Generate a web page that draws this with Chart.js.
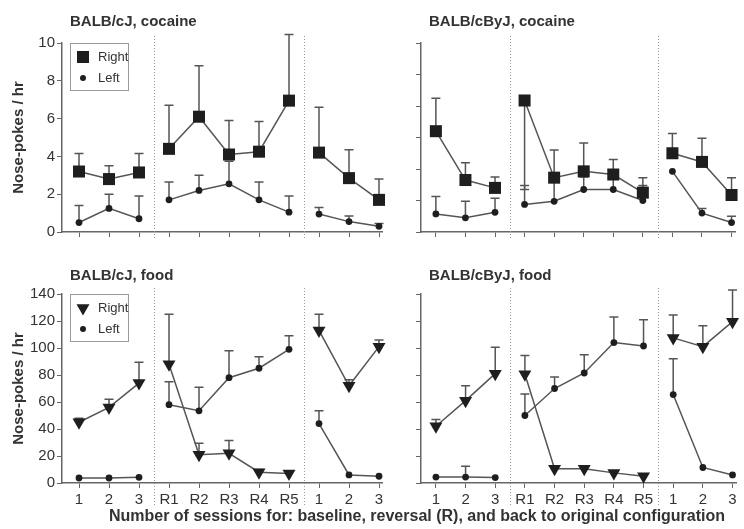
<!DOCTYPE html>
<html>
<head>
<meta charset="utf-8">
<script src="https://cdn.jsdelivr.net/npm/chart.js@4.4.0/dist/chart.umd.min.js"></script>
<style>
  body { margin: 0; background: #fff; }
  #wrap { position: relative; width: 744px; height: 529px; overflow: hidden; }
  canvas { position: absolute; }
  #xtitle {
    position: absolute; left: 70px; width: 694px; top: 507px;
    text-align: center; font: bold 16px "Liberation Sans", Arial, sans-serif; color: #333;
    white-space: nowrap;
  }
</style>
</head>
<body>
<div id="wrap">
  <canvas id="cjCocaine" width="392" height="250" style="left:0;top:0"></canvas>
  <canvas id="cbyjCocaine" width="352" height="250" style="left:392px;top:0"></canvas>
  <canvas id="cjFood" width="392" height="262" style="left:0;top:250px"></canvas>
  <canvas id="cbyjFood" width="352" height="262" style="left:392px;top:250px"></canvas>
  <div id="xtitle">Number of sessions for: baseline, reversal (R), and back to original configuration</div>
</div>
<script>
const sessionPos = [1, 2, 3, 4, 5, 6, 7, 8, 9, 10, 11];
const sessionLabels = ["1", "2", "3", "R1", "R2", "R3", "R4", "R5", "1", "2", "3"];
const phaseBreaks = [3.5, 8.5];

// BALB/cJ, cocaine
const cjCocRight = [3.2, 2.8, 3.15, 4.4, 6.1, 4.1, 4.25, 6.95, 4.2, 2.85, 1.7];
const cjCocRightErr = [4.15, 3.5, 4.15, 6.7, 8.8, 5.9, 5.85, 10.45, 6.6, 4.35, 2.8];
const cjCocLeft = [0.5, 1.25, 0.7, 1.7, 2.2, 2.55, 1.7, 1.05, 0.95, 0.55, 0.3];
const cjCocLeftErr = [1.4, 2.0, 1.9, 2.65, 3.0, 3.75, 2.65, 1.9, 1.3, 0.85, 0.45];

// BALB/cByJ, cocaine
const cbyjCocRight = [6.4, 3.3, 2.8, 8.35, 3.45, 3.85, 3.65, 2.5, 5.0, 4.45, 2.35];
const cbyjCocRightErr = [8.5, 4.4, 3.5, 2.7, 5.2, 5.65, 4.6, 3.45, 6.25, 5.95, 3.45];
const cbyjCocLeft = [1.15, 0.9, 1.25, 1.75, 1.95, 2.7, 2.7, 2.0, 3.85, 1.2, 0.6];
const cbyjCocLeftErr = [2.25, 1.95, 2.15, 2.95, 3.2, 3.5, 3.4, 2.95, null, 1.5, 1.0];

// BALB/cJ, food
const cjFoodRight = [45, 56, 74, 88, 21, 22, 8, 7, 113, 72, 101];
const cjFoodRightErr = [48, 62, 89.5, 125, 29.5, 31.5, 10, null, 125, 76.5, 106];
const cjFoodLeft = [3.7, 3.7, 4.2, 58, 53.5, 78, 85, 99, 44, 6, 5];
const cjFoodLeftErr = [null, null, null, 75, 71, 98, 93.5, 109, 53.5, null, null];

// BALB/cByJ, food
const cbyjFoodRight = [42, 61, 81, 80.5, 10.5, 10.5, 7.5, 5, 107.5, 101, 119.5];
const cbyjFoodRightErr = [47, 72, 100.5, 94.5, null, null, null, null, 124.5, 116.5, 143];
const cbyjFoodLeft = [4.4, 4.4, 4, 50, 70, 81.5, 104, 101.5, 65.5, 11.5, 6];
const cbyjFoodLeftErr = [null, 12.5, null, 66, 78.5, 95, 123, 121, 92, null, null];

const FONT = "'Liberation Sans', Arial, sans-serif";
const INK = "#333";
const LINE = "#555";
const MARK = "#1e1e1e";

// a null point at each phase break keeps the phases unconnected
function panelData(values) {
  const pts = [];
  sessionPos.forEach((x, i) => {
    pts.push({ x: x, y: values[i] });
    if (phaseBreaks.includes(x + 0.5)) pts.push({ x: x + 0.5, y: null });
  });
  return pts;
}

// one-sided error bars, from the mean to the value in errEnds
const errorBars = {
  id: "errorBars",
  beforeDatasetsDraw(chart) {
    const ctx = chart.ctx, xs = chart.scales.x, ys = chart.scales.y;
    ctx.save();
    ctx.strokeStyle = LINE;
    ctx.lineWidth = 1.5;
    chart.data.datasets.forEach(ds => {
      ds.errEnds.forEach((end, i) => {
        if (end == null) return;
        const x = xs.getPixelForValue(sessionPos[i]);
        const y0 = ys.getPixelForValue(ds.values[i]);
        const y1 = ys.getPixelForValue(end);
        ctx.beginPath();
        ctx.moveTo(x, y0);
        ctx.lineTo(x, y1);
        ctx.moveTo(x - 4.5, y1);
        ctx.lineTo(x + 4.5, y1);
        ctx.stroke();
      });
    });
    ctx.restore();
  }
};

// dotted separators between baseline, reversal and return
const phaseLines = {
  id: "phaseLines",
  afterDraw(chart, args, opts) {
    const ctx = chart.ctx, xs = chart.scales.x;
    ctx.save();
    ctx.strokeStyle = "#9a9a9a";
    ctx.lineWidth = 1;
    ctx.setLineDash([1, 2]);
    phaseBreaks.forEach(b => {
      const x = Math.round(xs.getPixelForValue(b)) + 0.5;
      ctx.beginPath();
      ctx.moveTo(x, opts.top);
      ctx.lineTo(x, opts.bottom);
      ctx.stroke();
    });
    ctx.restore();
  }
};

const panelTitle = {
  id: "panelTitle",
  afterDraw(chart, args, opts) {
    const ctx = chart.ctx;
    ctx.save();
    ctx.fillStyle = INK;
    ctx.font = "bold 15px " + FONT;
    ctx.textBaseline = "middle";
    ctx.fillText(opts.text, chart.chartArea.left + 8, opts.y);
    ctx.restore();
  }
};

function drawMarker(ctx, style, x, y, r) {
  ctx.beginPath();
  if (style === "rect") {
    const s = r * Math.SQRT1_2;
    ctx.rect(x - s, y - s, 2 * s, 2 * s);
  } else if (style === "triangle") {
    ctx.moveTo(x - r * 0.866, y - r / 2);
    ctx.lineTo(x + r * 0.866, y - r / 2);
    ctx.lineTo(x, y + r);
    ctx.closePath();
  } else {
    ctx.arc(x, y, r, 0, Math.PI * 2);
  }
  ctx.fill();
}

// boxed key in the upper left of the panel
const keyBox = {
  id: "keyBox",
  afterDraw(chart, args, opts) {
    if (!opts.show) return;
    const ctx = chart.ctx, a = chart.chartArea;
    const x = a.left + 8, y = a.top;
    ctx.save();
    ctx.strokeStyle = "#9a9a9a";
    ctx.lineWidth = 1;
    ctx.strokeRect(x + 0.5, y + 0.5, 58, 47);
    ctx.font = "13px " + FONT;
    ctx.textBaseline = "middle";
    chart.data.datasets.forEach((ds, i) => {
      const cy = y + 14 + i * 21;
      ctx.fillStyle = MARK;
      drawMarker(ctx, ds.pointStyle, x + 13, cy, ds.pointStyle === "circle" ? 3 : ds.pointRadius);
      ctx.fillStyle = INK;
      ctx.fillText(ds.label, x + 28, cy);
    });
    ctx.restore();
  }
};

function makePanel(id, cfg) {
  const rightStyle = cfg.food ? "triangle" : "rect";
  return new Chart(document.getElementById(id), {
    type: "line",
    data: {
      datasets: [
        {
          label: "Right", data: panelData(cfg.right), values: cfg.right, errEnds: cfg.rightErr,
          borderColor: LINE, borderWidth: 1.5, pointStyle: rightStyle,
          pointRotation: cfg.food ? 180 : 0, pointRadius: cfg.food ? 7.5 : 8.5,
          pointBackgroundColor: MARK, pointBorderColor: MARK, pointBorderWidth: 0
        },
        {
          label: "Left", data: panelData(cfg.left), values: cfg.left, errEnds: cfg.leftErr,
          borderColor: LINE, borderWidth: 1.5, pointStyle: "circle", pointRadius: 3.4,
          pointBackgroundColor: MARK, pointBorderColor: MARK, pointBorderWidth: 0
        }
      ]
    },
    options: {
      responsive: false,
      animation: false,
      spanGaps: false,
      clip: false,
      layout: { padding: cfg.padding },
      plugins: {
        legend: { display: false },
        tooltip: { enabled: false },
        panelTitle: { text: cfg.title, y: cfg.titleY },
        keyBox: { show: cfg.key },
        phaseLines: { top: cfg.sepTop, bottom: cfg.sepBottom }
      },
      scales: {
        x: {
          type: "linear", min: cfg.xMin, max: cfg.xMax,
          afterBuildTicks: s => { s.ticks = sessionPos.map(v => ({ value: v })); },
          afterFit: s => { s.height = cfg.xHeight; },
          grid: { drawOnChartArea: false, drawTicks: true, tickLength: 5, color: "#666", lineWidth: 1 },
          border: { color: "#666", width: 1.5 },
          ticks: {
            display: cfg.xLabels, color: INK, padding: 3, maxRotation: 0, autoSkip: false,
            font: { size: 15, family: FONT },
            callback: (v, i) => sessionLabels[i]
          }
        },
        y: {
          min: 0, max: cfg.yMax,
          afterFit: s => { s.width = cfg.yWidth; },
          grid: { drawOnChartArea: false, drawTicks: true, tickLength: 5, color: "#666", lineWidth: 1 },
          border: { color: "#666", width: 1.5 },
          ticks: { stepSize: cfg.yStep, display: cfg.yLabels, color: INK, padding: 2, font: { size: 15, family: FONT } },
          title: {
            display: cfg.yLabels, text: "Nose-pokes / hr", color: INK,
            font: { size: 15, weight: "bold", family: FONT }, padding: { top: 10, bottom: 0 }
          }
        }
      }
    },
    plugins: [errorBars, phaseLines, panelTitle, keyBox]
  });
}

const leftCol = { xMin: 0.433, xMax: 11.1, yWidth: 62, yLabels: true, key: true };
const rightCol = { xMin: 0.497, xMax: 11.134, yWidth: 29, yLabels: false, key: false };
const topRow = { padding: { top: 43, right: 10, left: 0, bottom: 0 }, xHeight: 18, xLabels: false, titleY: 22, sepTop: 36, sepBottom: 238 };
const botRow = { padding: { top: 44, right: 10, left: 0, bottom: 0 }, xHeight: 29, xLabels: true, titleY: 26, sepTop: 38, sepBottom: 257 };

makePanel("cjCocaine", Object.assign({}, leftCol, topRow, {
  title: "BALB/cJ, cocaine", food: false, yMax: 10, yStep: 2,
  right: cjCocRight, rightErr: cjCocRightErr, left: cjCocLeft, leftErr: cjCocLeftErr
}));
makePanel("cbyjCocaine", Object.assign({}, rightCol, topRow, {
  title: "BALB/cByJ, cocaine", food: false, yMax: 12, yStep: 2,
  padding: { top: 43, right: 6, left: 0, bottom: 0 },
  right: cbyjCocRight, rightErr: cbyjCocRightErr, left: cbyjCocLeft, leftErr: cbyjCocLeftErr
}));
makePanel("cjFood", Object.assign({}, leftCol, botRow, {
  title: "BALB/cJ, food", food: true, yMax: 140, yStep: 20,
  right: cjFoodRight, rightErr: cjFoodRightErr, left: cjFoodLeft, leftErr: cjFoodLeftErr
}));
makePanel("cbyjFood", Object.assign({}, rightCol, botRow, {
  title: "BALB/cByJ, food", food: true, yMax: 140, yStep: 20,
  padding: { top: 44, right: 6, left: 0, bottom: 0 },
  right: cbyjFoodRight, rightErr: cbyjFoodRightErr, left: cbyjFoodLeft, leftErr: cbyjFoodLeftErr
}));
</script>
</body>
</html>
